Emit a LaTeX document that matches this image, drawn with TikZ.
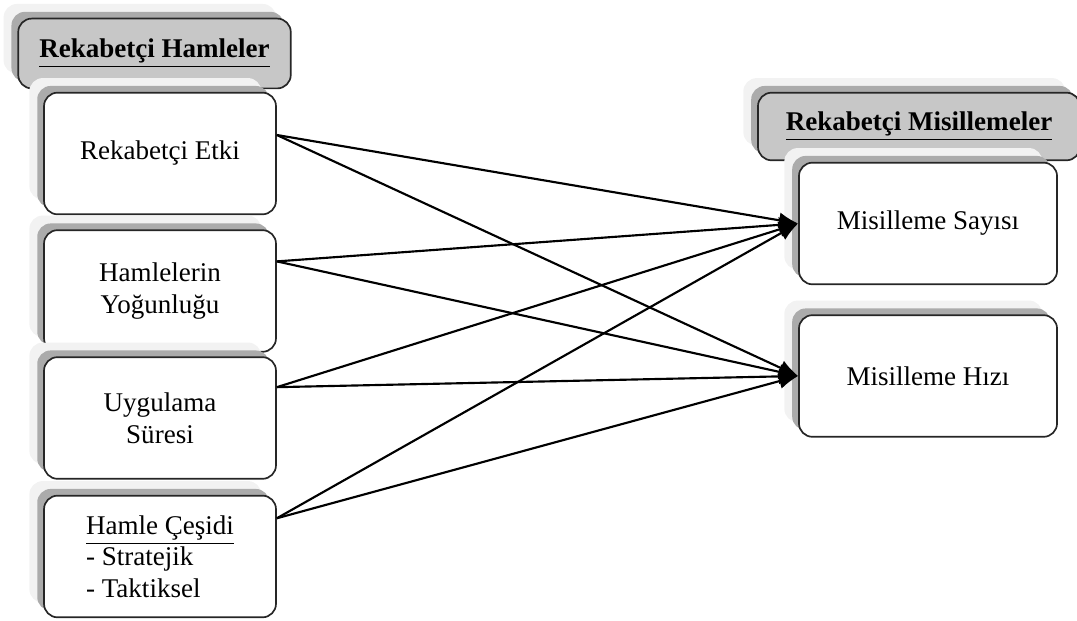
\documentclass[tikz,border=0pt]{standalone}
\usepackage{fontspec}
\setmainfont{Liberation Serif}
\usetikzlibrary{arrows.meta,calc,shadows}

\tikzset{
  box/.style={draw=black!85, line width=0.75pt, rounded corners=6pt, fill=white,
    minimum width=103pt, minimum height=54pt, align=center,
    copy shadow={shadow xshift=-6.5pt, shadow yshift=6.5pt, opacity=1, draw=none, fill=black!5},
    copy shadow={shadow xshift=-3pt, shadow yshift=3pt, opacity=1, draw=none, fill=black!33}},
  headbox/.style={box, fill=black!22, font=\fontsize{12}{14}\selectfont\bfseries, minimum height=31pt},
  link/.style={-{Latex[length=8.5pt,width=7pt]}, line width=0.95pt}
}

\begin{document}
\begin{tikzpicture}[x=0.444pt, y=-0.444pt, font=\fontsize{12}{14}\selectfont]
  \useasboundingbox (0,0) rectangle (1077,621);

  % left column
  \node[headbox, minimum width=121pt] (hamle) at (154.5,53.5) {\underline{Rekabetçi Hamleler}};
  \node[box] (etki) at (160,153.5) {Rekabetçi Etki};
  \node[box] (yogun) at (160,291) {Hamlelerin\\Yoğunluğu};
  \node[box] (sure) at (160,418) {Uygulama\\Süresi};
  \node[box, align=left] (cesit) at (160,556.5) {\underline{Hamle Çeşidi}\\- Stratejik\\- Taktiksel};

  % right column
  \node[headbox, minimum width=143pt, minimum height=30pt] (misil) at (919,126.5) {\underline{Rekabetçi Misillemeler}};
  \node[box, minimum width=114.6pt] (sayi) at (928,223.5) {Misilleme Sayısı};
  \node[box, minimum width=114.6pt] (hiz) at (928,376) {Misilleme Hızı};

  % start points
  \coordinate (s1) at ($(etki.north east)!0.35!(etki.south east)$);
  \coordinate (s2) at ($(yogun.north east)!0.26!(yogun.south east)$);
  \coordinate (s3) at ($(sure.north east)!0.25!(sure.south east)$);
  \coordinate (s4) at ($(cesit.north east)!0.19!(cesit.south east)$);

  \foreach \s in {s1,s2,s3,s4}{
    \draw[link] (\s) -- (sayi.west);
    \draw[link] (\s) -- (hiz.west);
  }
\end{tikzpicture}
\end{document}
